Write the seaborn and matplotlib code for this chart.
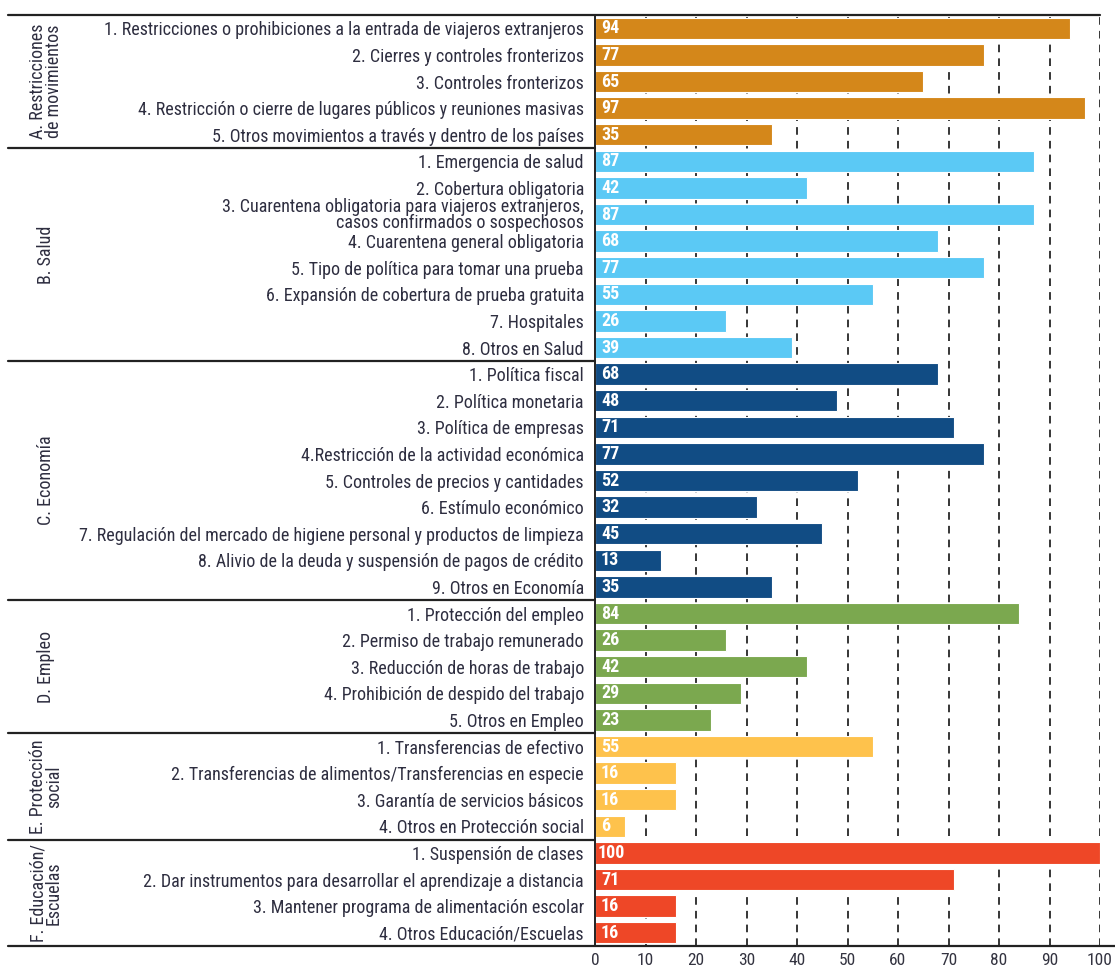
import matplotlib
matplotlib.use("Agg")
import matplotlib.pyplot as plt
from matplotlib import font_manager
import seaborn as sns
import pandas as pd
import numpy as np

# ---------------------------------------------------------------
# datos
grupos = ["A. Restricciones\nde movimientos", "B. Salud", "C. Economía",
          "D. Empleo", "E. Protección\nsocial", "F. Educación/\nEscuelas"]

medidas_a = ["1. Restricciones o prohibiciones a la entrada de viajeros extranjeros",
             "2. Cierres y controles fronterizos",
             "3. Controles fronterizos",
             "4. Restricción o cierre de lugares públicos y reuniones masivas",
             "5. Otros movimientos a través y dentro de los países"]
valores_a = [94, 77, 65, 97, 35]

medidas_b = ["1. Emergencia de salud",
             "2. Cobertura obligatoria",
             "3. Cuarentena obligatoria para viajeros extranjeros,\ncasos confirmados o sospechosos",
             "4. Cuarentena general obligatoria",
             "5. Tipo de política para tomar una prueba",
             "6. Expansión de cobertura de prueba gratuita",
             "7. Hospitales",
             "8. Otros en Salud"]
valores_b = [87, 42, 87, 68, 77, 55, 26, 39]

medidas_c = ["1. Política fiscal",
             "2. Política monetaria",
             "3. Política de empresas",
             "4.Restricción de la actividad económica",
             "5. Controles de precios y cantidades",
             "6. Estímulo económico",
             "7. Regulación del mercado de higiene personal y productos de limpieza",
             "8. Alivio de la deuda y suspensión de pagos de crédito",
             "9. Otros en Economía"]
valores_c = [68, 48, 71, 77, 52, 32, 45, 13, 35]

medidas_d = ["1. Protección del empleo",
             "2. Permiso de trabajo remunerado",
             "3. Reducción de horas de trabajo",
             "4. Prohibición de despido del trabajo",
             "5. Otros en Empleo"]
valores_d = [84, 26, 42, 29, 23]

medidas_e = ["1. Transferencias de efectivo",
             "2. Transferencias de alimentos/Transferencias en especie",
             "3. Garantía de servicios básicos",
             "4. Otros en Protección social"]
valores_e = [55, 16, 16, 6]

medidas_f = ["1. Suspensión de clases",
             "2. Dar instrumentos para desarrollar el aprendizaje a distancia",
             "3. Mantener programa de alimentación escolar",
             "4. Otros Educación/Escuelas"]
valores_f = [100, 71, 16, 16]

x_ticks = list(range(0, 101, 10))

colores = ["#D4871A", "#5BC9F5", "#114C84", "#7BA84F", "#FEC24C", "#EE4727"]

# ---------------------------------------------------------------
sns.set_style("white")

# buscar una fuente estrecha instalada
fuentes = font_manager.fontManager.ttflist
nombres = {f.name for f in fuentes}
FAMILIA, STRETCH, ESCALA = "DejaVu Sans", "normal", 0.82
for cand in ["Roboto Condensed", "Liberation Sans Narrow", "Open Sans Condensed"]:
    if cand in nombres:
        FAMILIA, STRETCH, ESCALA = cand, "normal", 1.0
        break
plt.rcParams['font.family'] = [FAMILIA, 'DejaVu Sans']
plt.rcParams['font.stretch'] = STRETCH

medidas = [medidas_a, medidas_b, medidas_c, medidas_d, medidas_e, medidas_f]
valores = [valores_a, valores_b, valores_c, valores_d, valores_e, valores_f]
filas = []
for g, ms, vs in zip(grupos, medidas, valores):
    for m, v in zip(ms, vs):
        filas.append({"grupo": g, "medida": m, "valor": v})
df = pd.DataFrame(filas)
n = len(df)

fig = plt.figure(figsize=(11.15, 9.71), dpi=100)
ax = fig.add_axes([595/1115, 1-946/971, 505/1115, 931/971])

# rejilla punteada detrás de las barras
for xt in x_ticks[1:]:
    ax.axvline(xt, color="black", lw=1.1, ls=(0, (5, 4)), zorder=0)

sns.barplot(data=df, y="medida", x="valor", hue="grupo", order=df["medida"],
            palette=colores, saturation=1, dodge=False, width=0.8,
            edgecolor="white", linewidth=0.8, legend=False, ax=ax, zorder=2)

fs = 13 * ESCALA
ax.set_xlim(0, 100)
ax.set_ylim(n - 0.5, -0.5)
ax.set_xticks(x_ticks)
ax.set_xticklabels([str(t) for t in x_ticks], fontsize=fs - 0.5, color="#333340")
ax.tick_params(axis="x", length=0, pad=5)
ax.tick_params(axis="y", length=0, pad=8)
ax.set_yticks(range(n))
ax.set_yticklabels(df["medida"], fontsize=fs, color="#2e2e40", linespacing=0.82)
ax.set_xlabel("")
ax.set_ylabel("")
for s in ["top", "right", "bottom"]:
    ax.spines[s].set_visible(False)
ax.spines["left"].set_color("#222222")
ax.spines["left"].set_linewidth(1.4)

# etiquetas de valor
for i, v in enumerate(df["valor"]):
    ax.text(0.5 if v >= 100 else 1.2, i, str(v), color="white", fontsize=fs,
            fontweight="bold", ha="left", va="center", zorder=3)

# líneas de marco y separadores
tr = ax.get_yaxis_transform()
x_izq = (8 - 595) / 505
ax.plot([x_izq, 1.0], [-0.5, -0.5], transform=tr, color="#222222", lw=1.6, clip_on=False)
ax.plot([x_izq, 1.03], [n - 0.5, n - 0.5], transform=tr, color="#222222", lw=1.6, clip_on=False)

inicio = 0
for g, ms in zip(grupos, medidas):
    fin = inicio + len(ms)
    if fin < n:
        ax.plot([x_izq, 0], [fin - 0.5, fin - 0.5], transform=tr, color="#222222",
                lw=1.6, clip_on=False)
    centro = (inicio + fin - 1) / 2
    ax.text((46 - 595) / 505, centro, g, transform=tr, rotation=90, ha="center",
            va="center", fontsize=fs, color="#2e2e40", linespacing=0.82,
            multialignment="center")
    inicio = fin

fig.savefig("out.png", dpi=100)
